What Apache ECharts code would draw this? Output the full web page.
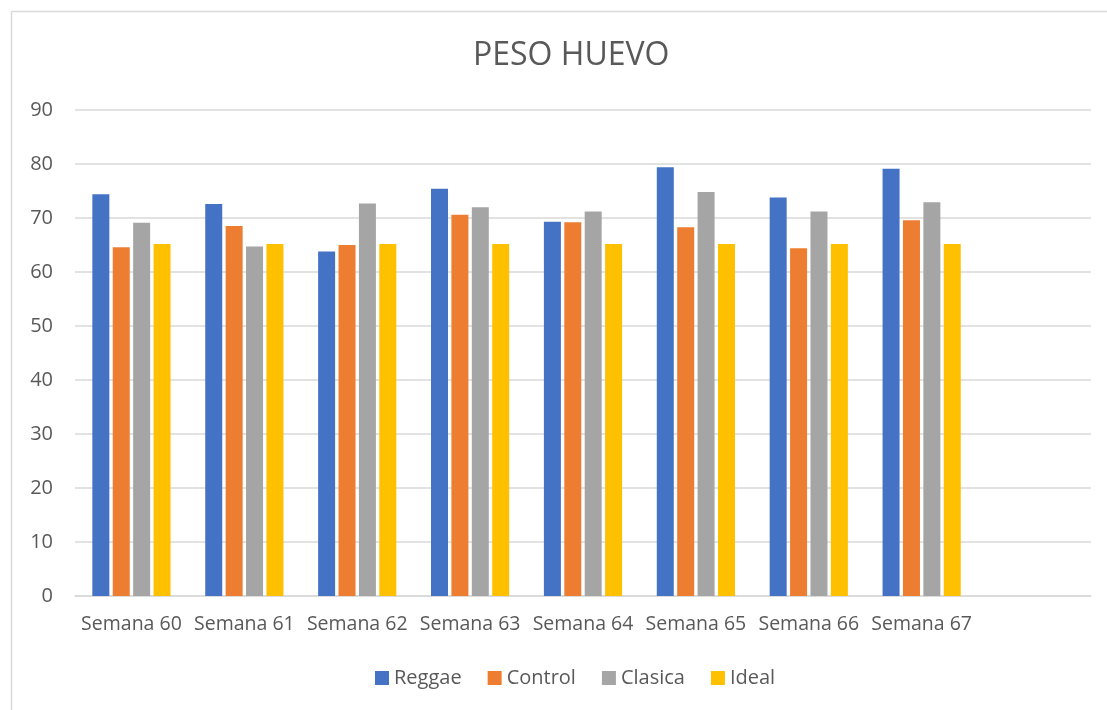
<!DOCTYPE html>
<html><head><meta charset="utf-8">
<script src="https://cdn.jsdelivr.net/npm/echarts@6/dist/echarts.min.js"></script>
<style>html,body{margin:0;padding:0;background:#fff}#c{width:1107px;height:710px}</style>
</head><body><div id="c"></div>
<script>
const categories = ['Semana 60','Semana 61','Semana 62','Semana 63','Semana 64','Semana 65','Semana 66','Semana 67',''];
const reggae  = [74.4, 72.6, 63.8, 75.4, 69.3, 79.4, 73.8, 79.1];
const control = [64.6, 68.5, 65.0, 70.6, 69.2, 68.3, 64.4, 69.6];
const clasica = [69.1, 64.7, 72.7, 72.0, 71.2, 74.8, 71.2, 72.9];
const ideal   = [65.2, 65.2, 65.2, 65.2, 65.2, 65.2, 65.2, 65.2];
const yTicks = [0,10,20,30,40,50,60,70,80,90];

const font = '"Open Sans", "Liberation Sans", sans-serif';
const txt = '#595959';
const chart = echarts.init(document.getElementById('c'));
const mk = (name, data, color) => ({
  name, type: 'bar', data, barWidth: 17, barGap: '20%',
  itemStyle: { color }
});
chart.setOption({
  animation: false,
  backgroundColor: '#fff',
  title: { text: 'PESO HUEVO', left: 468, top: 35,
    textStyle: { fontFamily: font, fontSize: 32, fontWeight: 'normal', color: txt } },
  graphic: [
    { type: 'line', shape: { x1: 11.5, y1: 11.5, x2: 1107, y2: 11.5 }, style: { stroke: '#d9d9d9', lineWidth: 1.5 } },
    { type: 'line', shape: { x1: 11.5, y1: 11.5, x2: 11.5, y2: 710 }, style: { stroke: '#d9d9d9', lineWidth: 1.5 } }
  ],
  legend: {
    bottom: 17, left: 370, itemWidth: 14, itemHeight: 14, itemGap: 26,
    icon: 'rect',
    textStyle: { fontFamily: font, fontSize: 20, color: txt }
  },
  grid: { left: 75, right: 16, top: 110, bottom: 114 },
  xAxis: {
    type: 'category', data: categories,
    axisLine: { lineStyle: { color: '#d9d9d9', width: 1.5 } },
    axisTick: { show: false },
    axisLabel: { fontFamily: font, fontSize: 19.5, color: txt, margin: 18, interval: 0 }
  },
  yAxis: {
    type: 'value', min: 0, max: 90, interval: 10,
    axisLine: { show: false }, axisTick: { show: false },
    splitLine: { lineStyle: { color: '#d9d9d9', width: 1.5 } },
    axisLabel: { fontFamily: font, fontSize: 20, color: txt, margin: 22,
      customValues: yTicks }
  },
  series: [
    mk('Reggae', reggae, '#4472c4'),
    mk('Control', control, '#ed7d31'),
    mk('Clasica', clasica, '#a5a5a5'),
    mk('Ideal', ideal, '#ffc000')
  ]
});
</script></body></html>
